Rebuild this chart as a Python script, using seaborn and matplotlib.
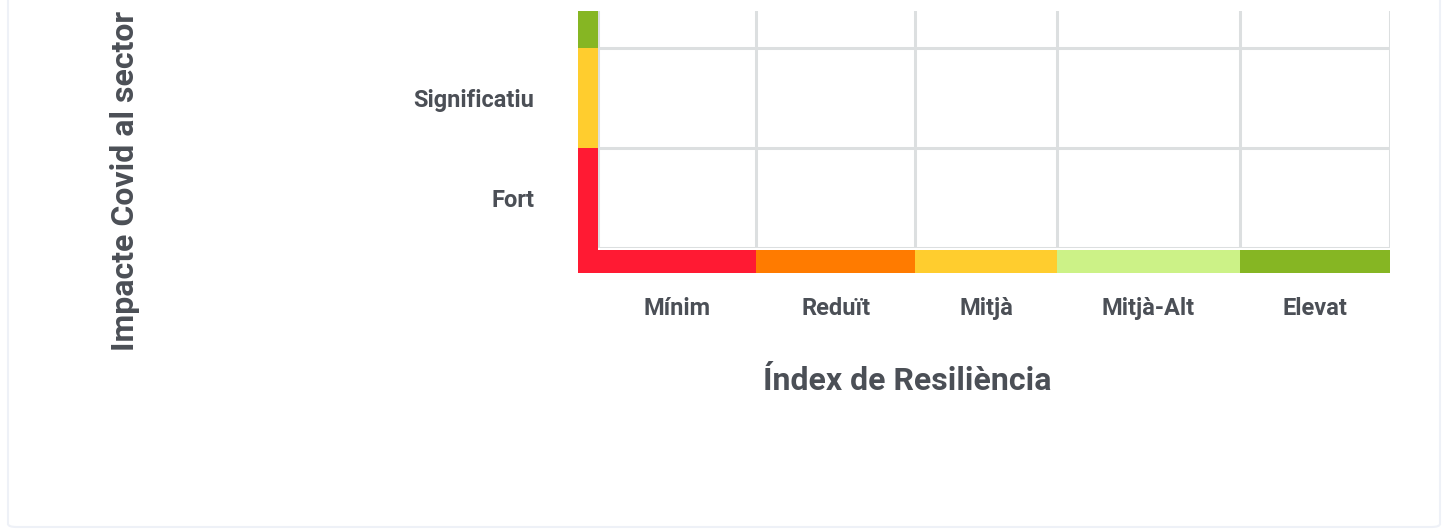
import matplotlib
matplotlib.use("Agg")
import matplotlib.pyplot as plt
from matplotlib.patches import FancyBboxPatch
import seaborn as sns

# Resilience index classes (x) and their break points on a 0-100 scale
resilience_labels = ["Mínim", "Reduït", "Mitjà", "Mitjà-Alt", "Elevat"]
resilience_breaks = [0, 20, 40, 58, 81, 100]
resilience_colors = ["#FF1A33", "#FF7B00", "#FFCD2E", "#CCF287", "#86B623"]

# Covid impact classes (y), bottom to top; the top row is cut off in the view
impact_labels = ["Fort", "Significatiu", ""]
impact_breaks = [0, 1, 2, 3]
impact_colors = ["#FF1A33", "#FFCD2E", "#86B623"]

TEXT = "#4B4F56"
GRID = "#DCDFE0"

sns.set_theme(style="white")
plt.rcParams["font.family"] = ["Roboto", "DejaVu Sans"]

W, H = 1449, 531
fig = plt.figure(figsize=(W / 100, H / 100), dpi=100)

# card border
card = FancyBboxPatch((8 / W, 4 / H), 1432 / W, 560 / H,
                      boxstyle="round,pad=0,rounding_size=0.006",
                      transform=fig.transFigure, facecolor="none",
                      edgecolor="#EEF1F7", linewidth=1.5, zorder=-1)
fig.patches.append(card)

ax = fig.add_axes([598 / W, 1 - 248 / H, 792 / W, 237 / H])
ax.set_facecolor("none")
y_top = 2.37
ax.set_xlim(resilience_breaks[0], resilience_breaks[-1])
ax.set_ylim(0, y_top)

# band thickness in data units
px_x = (resilience_breaks[-1] - resilience_breaks[0]) / 792
px_y = y_top / 237
band_x = 20 * px_x
band_lo = -25 * px_y
band_h = 23 * px_y

# colour band under the x axis
lefts = resilience_breaks[:-1]
widths = [b - a for a, b in zip(resilience_breaks[:-1], resilience_breaks[1:])]
ax.bar(lefts, [band_h] * len(lefts), width=widths, bottom=band_lo,
       align="edge", color=resilience_colors, linewidth=0, clip_on=False, zorder=3)

# colour band left of the y axis
bottoms = impact_breaks[:-1]
heights = [min(b, y_top) - a for a, b in zip(impact_breaks[:-1], impact_breaks[1:])]
bottoms = [band_lo] + bottoms[1:]
heights = [heights[0] - band_lo] + heights[1:]
ax.barh(bottoms, [band_x] * len(bottoms), height=heights, left=-band_x,
        align="edge", color=impact_colors, linewidth=0, clip_on=False, zorder=3)

# grid on the class boundaries
for xb in resilience_breaks:
    ax.axvline(xb, color=GRID, lw=2.2, zorder=1)
for yb in impact_breaks:
    ax.axhline(yb, color=GRID, lw=2.2, zorder=1)

xcent = [(a + b) / 2 for a, b in zip(resilience_breaks[:-1], resilience_breaks[1:])]
ycent = [(a + b) / 2 for a, b in zip(impact_breaks[:-1], impact_breaks[1:])]
ax.set_xticks(xcent, resilience_labels)
ax.set_yticks(ycent[:2], impact_labels[:2])
ax.tick_params(axis="x", length=0, pad=35, labelsize=17, labelcolor=TEXT)
ax.tick_params(axis="y", length=0, pad=46, labelsize=17, labelcolor=TEXT)
for lab in ax.get_xticklabels() + ax.get_yticklabels():
    lab.set_fontweight("bold")

sns.despine(ax=ax, left=True, bottom=True)

fig.text(907 / W, 1 - 381 / H, "Índex de Resiliència", ha="center", va="center",
         fontsize=23, fontweight="bold", color=TEXT)
fig.text(125 / W, 1 - 181 / H, "Impacte Covid al sector", ha="center", va="center",
         rotation=90, fontsize=23, fontweight="bold", color=TEXT)

fig.savefig("out.png", dpi=100)
